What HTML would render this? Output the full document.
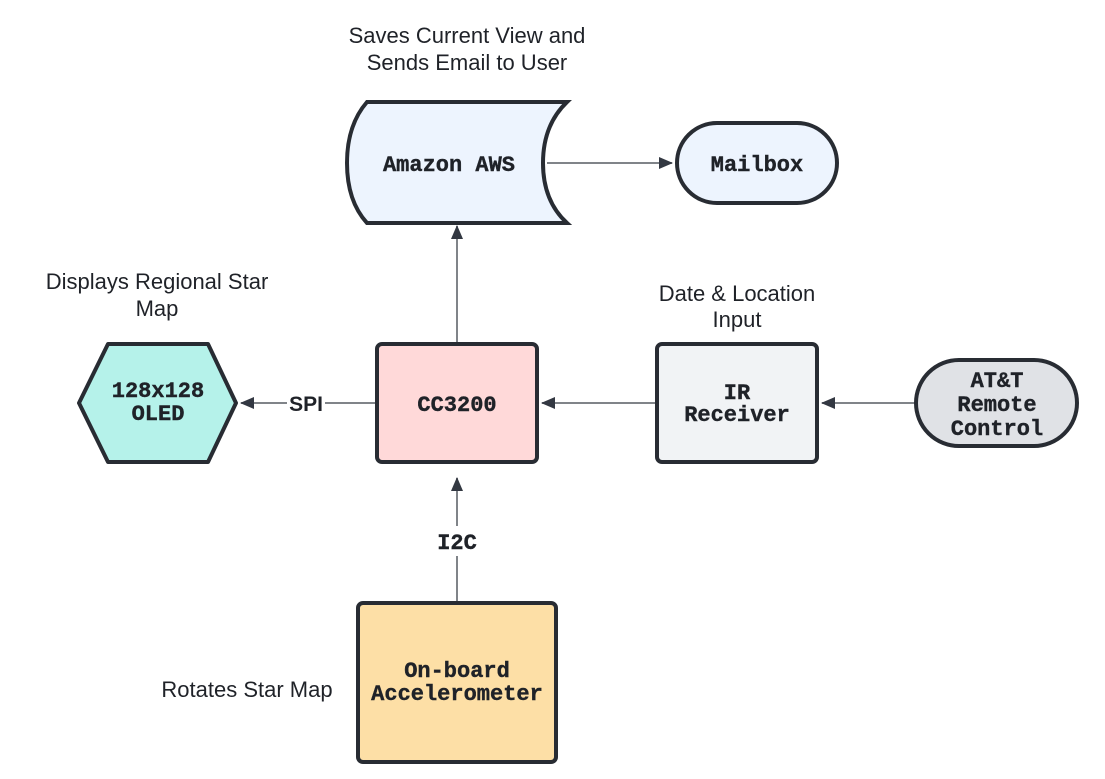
<!DOCTYPE html>
<html><head><style>body{margin:0;background:#fff}svg{display:block}</style></head><body>
<svg width="1105" height="779" xmlns="http://www.w3.org/2000/svg">
<defs>
<marker id="b" markerWidth="14" markerHeight="12" refX="13" refY="6" orient="auto" markerUnits="userSpaceOnUse"><path d="M0,0 L14,6 L0,12 Z" fill="#333842"/></marker></defs>
<g stroke="#808489" stroke-width="2" fill="none">
<line x1="547" y1="163" x2="672" y2="163" marker-end="url(#b)"/>
<line x1="457" y1="343" x2="457" y2="226" marker-end="url(#b)"/>
<line x1="376" y1="403" x2="241" y2="403" marker-end="url(#b)"/>
<line x1="656" y1="403" x2="542" y2="403" marker-end="url(#b)"/>
<line x1="915" y1="403" x2="822" y2="403" marker-end="url(#b)"/>
<line x1="457" y1="603" x2="457" y2="478" marker-end="url(#b)"/>
</g>
<rect x="287" y="388" width="38" height="30" fill="#fff"/>
<rect x="432" y="526" width="50" height="30" fill="#fff"/>
<g stroke="#282c33" stroke-width="4">
<path d="M367,102 L567,102 Q543,125 543,163 Q543,201 567,223 L367,223 Q347,201 347,163 Q347,125 367,102 Z" fill="#edf4fe"/>
<rect x="677" y="123" width="160" height="80" rx="40" fill="#edf4fe"/>
<path d="M108,344 L208,344 L236,403 L208,462 L108,462 L79,403 Z" fill="#b5f2ea" stroke-linejoin="round"/>
<rect x="377" y="344" width="160" height="118" rx="5" fill="#ffd9d9"/>
<rect x="657" y="344" width="160" height="118" rx="5" fill="#f1f3f5"/>
<rect x="916" y="360" width="161" height="86" rx="43" fill="#e0e2e6"/>
<rect x="358" y="603" width="198" height="159" rx="5" fill="#fddfa6"/>
</g>
<g font-family="Liberation Mono, monospace" font-weight="bold" font-size="22" fill="#1f2228" text-anchor="middle" stroke="#1f2228" stroke-width="0.4">
<text x="449" y="171">Amazon AWS</text>
<text x="757" y="171">Mailbox</text>
<text x="158" y="397">128x128</text><text x="158" y="420">OLED</text>
<text x="457" y="411">CC3200</text>
<text x="737" y="399">IR</text><text x="737" y="421">Receiver</text>
<text x="997" y="387">AT&amp;T</text><text x="997" y="411">Remote</text><text x="997" y="435">Control</text>
<text x="457" y="677">On-board</text><text x="457" y="700">Accelerometer</text>
<text x="457" y="549">I2C</text>
</g>
<g font-family="Liberation Sans, sans-serif" font-size="22" fill="#1f2228" text-anchor="middle">
<text x="306" y="411" font-weight="bold" font-size="21">SPI</text>
<text x="467" y="43">Saves Current View and</text>
<text x="467" y="70">Sends Email to User</text>
<text x="157" y="289">Displays Regional Star</text>
<text x="157" y="316">Map</text>
<text x="737" y="301">Date &amp; Location</text>
<text x="737" y="327">Input</text>
<text x="247" y="697">Rotates Star Map</text>
</g>
</svg>
</body></html>
